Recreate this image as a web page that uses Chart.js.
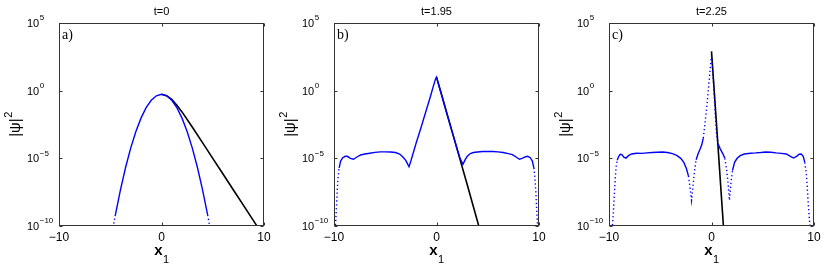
<!DOCTYPE html>
<html>
<head>
<meta charset="utf-8">
<title>|psi|^2 at three times</title>
<script src="https://cdn.jsdelivr.net/npm/chart.js@4"></script>
<style>
  body { margin: 0; background: #fff; }
  #wrap { position: relative; width: 822px; height: 265px; overflow: hidden; }
  canvas { position: absolute; top: 0; }
</style>
</head>
<body>
<div id="wrap">
  <canvas id="panelA" width="272" height="265" style="left:0px"></canvas>
  <canvas id="panelB" width="272" height="265" style="left:275px"></canvas>
  <canvas id="panelC" width="272" height="265" style="left:550px"></canvas>
</div>
<script>
// ticks shared by the three panels
const xTicks = [-10, 0, 10];
const yTickExps = [5, 0, -5, -10];   // 10^5 ... 10^-10
const titles = ['t=0', 't=1.95', 't=2.25'];
const panelLabels = ['a)', 'b)', 'c)'];

// values as log10(|psi|^2)

// panel a
const aBlueX   = [-4.8, -4.5, -4, -3.5, -3, -2.5, -2, -1.5, -1, -0.5, 0, 0.5, 1, 1.5, 2, 2.5, 3, 3.5, 4, 4.5, 4.8];
const aBlueExp = [-10.4, -9.18, -7.31, -5.66, -4.23, -3.02, -2.03, -1.26, -0.71, -0.38, -0.27, -0.38, -0.71, -1.26, -2.03, -3.02, -4.23, -5.66, -7.31, -9.18, -10.4];
const aBlackX   = [0, 0.5, 1, 1.5, 2, 3, 4, 5, 6, 7, 8, 9, 9.4];
const aBlackExp = [-0.27, -0.37, -0.65, -1.07, -1.57, -2.68, -3.84, -5.0, -6.16, -7.32, -8.48, -9.64, -10.1];

// panel b
const bBlueX = [-9.9, -9.8, -9.7, -9.6, -9.5, -9.35, -9.15, -8.9, -8.7, -8.4, -8.1, -7.8, -7.4, -7.0, -6.5, -6.0, -5.5, -5.0, -4.5, -4.0, -3.6, -3.3, -3.0, -2.8, -2.68, -2.5, -2.0, -1.5, -1.0, -0.6, -0.3, -0.1, 0,
  0.1, 0.3, 0.6, 1.0, 1.5, 2.0, 2.3, 2.58, 2.8, 3.0, 3.3, 3.6, 4.0, 4.5, 5.0, 5.5, 6.0, 6.5, 7.0, 7.4, 7.8, 8.1, 8.4, 8.7, 8.9, 9.15, 9.35, 9.5, 9.6, 9.7, 9.8, 9.9];
const bBlueExp = [-10.5, -9.2, -7.6, -6.4, -5.7, -5.2, -4.95, -4.85, -4.85, -5.0, -5.07, -4.92, -4.75, -4.68, -4.62, -4.56, -4.52, -4.52, -4.53, -4.57, -4.68, -4.88, -5.15, -5.45, -5.62, -5.2, -3.9, -2.7, -1.45, -0.45, 0.35, 0.85, 1.0,
  0.75, 0.2, -0.6, -1.65, -2.95, -4.25, -5.0, -5.45, -5.1, -4.85, -4.65, -4.57, -4.53, -4.5, -4.5, -4.5, -4.52, -4.57, -4.65, -4.72, -4.92, -5.07, -4.98, -4.88, -4.85, -4.95, -5.2, -5.7, -6.4, -7.6, -9.2, -10.5];
const bBlackX   = [0, 0.5, 1, 2, 3, 4.2];
const bBlackExp = [1.0, -0.3, -1.65, -4.3, -6.95, -10.2];

// panel c
const cBlueX = [-9.75, -9.6, -9.5, -9.4, -9.3, -9.2, -9.05, -8.9, -8.75, -8.55, -8.35, -8.1, -7.8, -7.3, -6.8, -6.3, -5.8, -5.3, -4.8, -4.3, -3.8, -3.4, -3.0, -2.7, -2.45, -2.25, -2.1, -1.95, -1.8, -1.65, -1.5, -1.3, -1.1, -0.95, -0.8, -0.65, -0.5, -0.35, -0.2, -0.1, 0,
  0.1, 0.2, 0.3, 0.4, 0.5, 0.65, 0.85, 1.1, 1.3, 1.45, 1.6, 1.75, 1.9, 2.05, 2.25, 2.5, 2.8, 3.2, 3.8, 4.3, 4.8, 5.3, 5.8, 6.3, 6.8, 7.3, 7.7, 8.0, 8.3, 8.55, 8.75, 8.95, 9.1, 9.25, 9.35, 9.45, 9.55, 9.7];
const cBlueExp = [-10.8, -9.3, -8.0, -6.6, -5.6, -5.15, -4.85, -4.7, -4.72, -4.92, -4.98, -4.8, -4.68, -4.62, -4.63, -4.6, -4.57, -4.55, -4.53, -4.57, -4.65, -4.78, -5.0, -5.3, -5.75, -6.3, -7.1, -8.1, -7.0, -5.9, -5.1, -4.65, -4.3, -4.0, -3.5, -2.5, -1.5, -0.3, 1.0, 1.9, 2.6,
  1.7, 0.6, -0.8, -2.2, -3.3, -3.95, -4.3, -4.65, -5.0, -5.7, -6.7, -8.1, -6.8, -5.9, -5.3, -5.0, -4.8, -4.68, -4.62, -4.6, -4.57, -4.53, -4.55, -4.6, -4.63, -4.68, -4.85, -4.98, -4.85, -4.7, -4.68, -4.85, -5.3, -6.1, -7.2, -8.5, -9.5, -10.8];
const cBlackX   = [0, 0.5, 1.0, 1.2];
const cBlackExp = [2.9, -2.6, -8.2, -10.4];

const sans = '"Liberation Sans", Arial, Helvetica, sans-serif';
const serif = '"Liberation Serif", "Times New Roman", serif';

function toPoints(xs, exps) {
  return xs.map((x, i) => ({ x: x, y: Math.pow(10, exps[i]) }));
}

// steep stretches of the sampled curve show up as separate dots
function steep(c) {
  return Math.abs(c.p1.y - c.p0.y) > 5.2 * Math.abs(c.p1.x - c.p0.x);
}

function expText(e) {
  return e < 0 ? '\u2212' + Math.abs(e) : String(e);
}

// box, inward ticks and all the text, drawn matlab style
const framePlugin = {
  id: 'frame',
  afterDraw(chart, args, opts) {
    const ctx = chart.ctx;
    const a = chart.chartArea;
    const xs = chart.scales.x, ys = chart.scales.y;
    const l = Math.round(a.left) + 0.5, r = Math.round(a.right) - 0.5;
    const t = Math.round(a.top) + 0.5, b = Math.round(a.bottom) - 0.5;
    const cx = (a.left + a.right) / 2;
    ctx.save();
    ctx.strokeStyle = '#333';
    ctx.lineWidth = 1;
    ctx.strokeRect(l, t, r - l, b - t);
    ctx.beginPath();
    xTicks.forEach(v => {
      const px = Math.round(xs.getPixelForValue(v)) + 0.5;
      ctx.moveTo(px, b); ctx.lineTo(px, b - 3);
      ctx.moveTo(px, t); ctx.lineTo(px, t + 3);
    });
    yTickExps.forEach(e => {
      const py = Math.round(ys.getPixelForValue(Math.pow(10, e))) + 0.5;
      ctx.moveTo(l, py); ctx.lineTo(l + 3, py);
      ctx.moveTo(r, py); ctx.lineTo(r - 3, py);
    });
    ctx.stroke();

    ctx.fillStyle = '#000';
    // x tick labels
    ctx.font = '12px ' + sans;
    ctx.textAlign = 'center';
    ctx.textBaseline = 'middle';
    xTicks.forEach(v => {
      const label = v < 0 ? '\u2212' + Math.abs(v) : String(v);
      ctx.fillText(label, xs.getPixelForValue(v), 237.5);
    });
    // y tick labels: 10 with raised exponent
    ctx.textAlign = 'left';
    yTickExps.forEach(e => {
      const py = ys.getPixelForValue(Math.pow(10, e));
      const x0 = a.left - 32;
      ctx.font = '11px ' + sans;
      ctx.fillText('10', x0, py + 1);
      const w = ctx.measureText('10').width;
      ctx.font = '8px ' + sans;
      ctx.fillText(expText(e), x0 + w + 0.5, py - 5);
    });
    // x axis title x_1
    ctx.textBaseline = 'alphabetic';
    ctx.font = 'bold 15px ' + sans;
    ctx.textAlign = 'right';
    ctx.fillText('x', cx + 1, 255);
    ctx.font = '11px ' + sans;
    ctx.textAlign = 'left';
    ctx.fillText('1', cx + 1.5, 263);
    // y axis title |psi|^2, the 2 raised by hand
    ctx.save();
    ctx.translate(20, (a.top + a.bottom) / 2);
    ctx.rotate(-Math.PI / 2);
    ctx.font = '15px ' + sans;
    const base = '|\u03c8|';
    const bw = ctx.measureText(base).width;
    ctx.font = '11px ' + sans;
    const sw = ctx.measureText('2').width;
    const x0 = -(bw + sw) / 2;
    ctx.font = '15px ' + sans;
    ctx.textAlign = 'left';
    ctx.textBaseline = 'alphabetic';
    ctx.fillText(base, x0, 0);
    ctx.font = '11px ' + sans;
    ctx.fillText('2', x0 + bw + 0.5, -8);
    ctx.restore();
    // title over the box
    ctx.font = '11px ' + sans;
    ctx.textAlign = 'center';
    ctx.textBaseline = 'middle';
    ctx.fillText(opts.title, cx, 11.5);
    // panel letter
    ctx.font = '14px ' + serif;
    ctx.textAlign = 'left';
    ctx.textBaseline = 'alphabetic';
    ctx.fillText(opts.label, a.left + 3, 39);
    ctx.restore();
  }
};

function makePanel(id, idx, blueX, blueExp, blackX, blackExp) {
  new Chart(document.getElementById(id), {
    type: 'line',
    data: {
      datasets: [
        {
          data: toPoints(blueX, blueExp),
          borderColor: '#0000ff',
          borderWidth: 1.4,
          pointRadius: 0,
          tension: 0,
          segment: { borderDash: c => steep(c) ? [1.3, 2.6] : undefined }
        },
        {
          data: toPoints(blackX, blackExp),
          borderColor: '#000000',
          borderWidth: 1.6,
          pointRadius: 0,
          tension: 0
        }
      ]
    },
    options: {
      responsive: false,
      animation: false,
      devicePixelRatio: 1,
      layout: { padding: { top: 23, right: 8, left: 0, bottom: 0 } },
      plugins: {
        legend: { display: false },
        tooltip: { enabled: false },
        frame: { title: titles[idx], label: panelLabels[idx] }
      },
      scales: {
        x: {
          type: 'linear', min: -10, max: 10,
          ticks: { display: false },
          grid: { display: false },
          border: { display: false },
          afterFit: s => { s.height = 39; }
        },
        y: {
          type: 'logarithmic', min: 1e-10, max: 1e5,
          ticks: { display: false },
          grid: { display: false },
          border: { display: false },
          afterFit: s => { s.width = 59; }
        }
      }
    },
    plugins: [framePlugin]
  });
}

makePanel('panelA', 0, aBlueX, aBlueExp, aBlackX, aBlackExp);
makePanel('panelB', 1, bBlueX, bBlueExp, bBlackX, bBlackExp);
makePanel('panelC', 2, cBlueX, cBlueExp, cBlackX, cBlackExp);
</script>
</body>
</html>
